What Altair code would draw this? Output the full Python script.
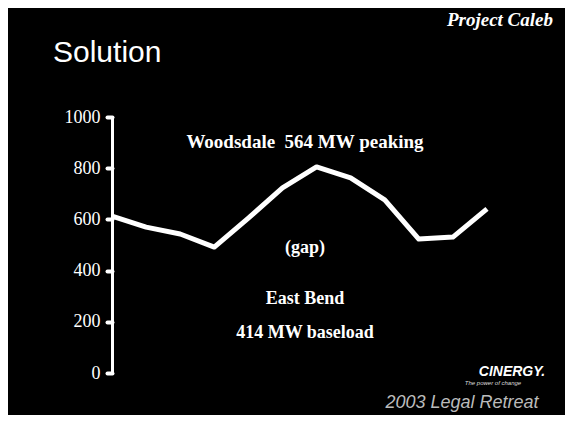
import altair as alt
import pandas as pd

# Data
months = list(range(12))
values = [613, 570, 543, 492, 605, 723, 805, 762, 676, 523, 531, 641]
y_ticks = [0, 200, 400, 600, 800, 1000]

title_text = "Solution"
header_text = "Project Caleb"
peaking_text = "Woodsdale\u00a0 564 MW peaking"
gap_text = "(gap)"
base1_text = "East Bend"
base2_text = "414 MW baseload"
logo_text = "CINERGY."
tagline_text = "The power of change"
footer_text = "2003 Legal Retreat"

df = pd.DataFrame({"month": months, "mw": values})

line = alt.Chart(df).mark_line(color="white", strokeWidth=5, strokeJoin="round").encode(
    x=alt.X("month:Q", scale=alt.Scale(domain=[0, 11], nice=False, zero=False), axis=None),
    y=alt.Y(
        "mw:Q",
        scale=alt.Scale(domain=[0, 1000], nice=False),
        axis=alt.Axis(
            values=y_ticks,
            format="d",
            title=None,
            grid=False,
            domainColor="white",
            domainWidth=3,
            domainCap="round",
            tickColor="white",
            tickSize=5,
            tickWidth=4,
            tickCap="round",
            labelColor="white",
            labelFont="Liberation Sans Narrow",
            labelFontSize=18,
            labelPadding=7,
        ),
    ),
)


def label(text, x, y, **kw):
    return alt.Chart(pd.DataFrame({"t": [text]})).mark_text(**kw).encode(
        x=alt.value(x), y=alt.value(y), text="t:N"
    )


serif = "Liberation Serif"
sans = "Liberation Sans"

layers = [
    line,
    label(title_text, -59, -55, font=sans, fontSize=30, color="white", align="left", baseline="alphabetic"),
    label(header_text, 441, -91, font=serif, fontSize=19, fontWeight="bold", fontStyle="italic",
          color="white", align="right", baseline="alphabetic"),
    label(peaking_text, 193, 25, font=serif, fontSize=19, fontWeight="bold", color="white",
          align="center", baseline="middle"),
    label(gap_text, 193, 131, font=serif, fontSize=18, fontWeight="bold", color="white",
          align="center", baseline="middle"),
    label(base1_text, 193, 182, font=serif, fontSize=18, fontWeight="bold", color="white",
          align="center", baseline="middle"),
    label(base2_text, 193, 216, font=serif, fontSize=18, fontWeight="bold", color="white",
          align="center", baseline="middle"),
    label(logo_text, 400, 255, font=sans, fontSize=14, fontWeight="bold", fontStyle="italic",
          color="white", align="center", baseline="middle"),
    label(tagline_text, 381, 266, font=sans, fontSize=6, fontStyle="italic",
          color="#dddddd", align="center", baseline="middle"),
    label(footer_text, 350, 286, font=sans, fontSize=18, fontStyle="italic",
          color="#bbbbbb", align="center", baseline="middle"),
]

chart = alt.layer(*layers).properties(
    width=375,
    height=256,
    background="black",
    padding={"left": 104, "top": 109, "right": 78, "bottom": 42},
    autosize=alt.AutoSizeParams(type="none"),
).configure_view(stroke=None, fill="black")

chart.save("out.html", embed_options={"renderer": "svg", "actions": False})
